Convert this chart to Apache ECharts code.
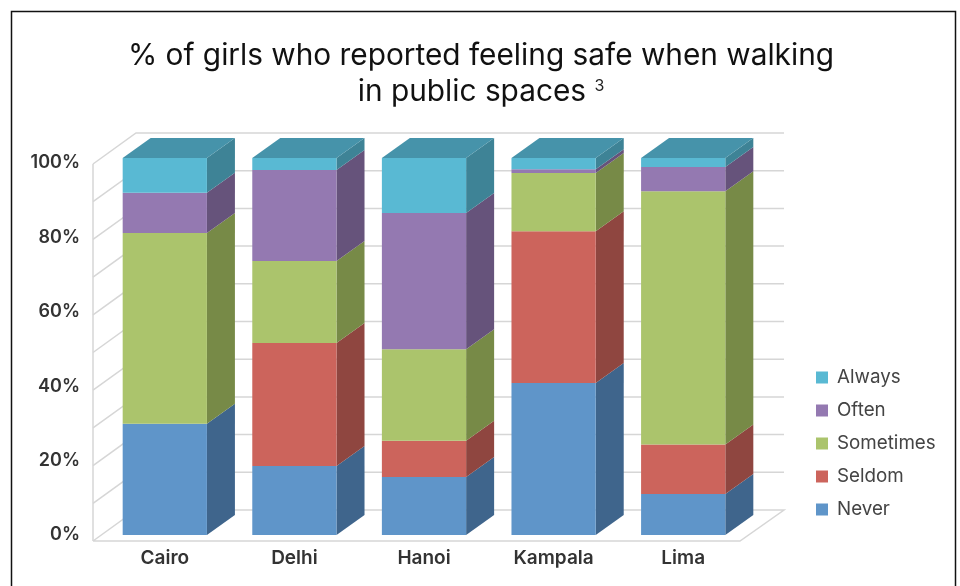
<!DOCTYPE html>
<html>
<head>
<meta charset="utf-8">
<style>
  html, body { margin: 0; padding: 0; background: #fff; }
  #chart { width: 960px; height: 586px; }
</style>
<script src="https://cdn.jsdelivr.net/npm/echarts@6/dist/echarts.min.js"></script>
</head>
<body>
<div id="chart"></div>
<script>
const cities = ["Cairo", "Delhi", "Hanoi", "Kampala", "Lima"];
const never = [29.5, 18.3, 15.4, 40.3, 10.9];
const seldom = [0, 32.6, 9.6, 40.3, 13.1];
const sometimes = [50.6, 21.8, 24.3, 15.4, 67.2];
const often = [10.7, 24.1, 36.1, 1, 6.4];
const always = [9.2, 3.2, 14.6, 3, 2.4];
const wallTicks = [0, 10, 20, 30, 40, 50, 60, 70, 80, 90, 100];

const FONT = "Inter";
const DEPTH_X = 28, DEPTH_Y = 20;

// front, side, top
const never_c = ["#5f95c9", "#3f658c"];
const seldom_c = ["#cc645c", "#8f4640"];
const sometimes_c = ["#abc46c", "#778a47"];
const often_c = ["#9479b1", "#66537b"];
const always_c = ["#59b9d3", "#3e8396", "#4693aa"];

function makeStack() {
  const rows = [];
  const base = cities.map(() => 0);
  [never, seldom, sometimes, often, always].forEach((values) => {
    rows.push(values.map((v, i) => {
      const item = [i, base[i], base[i] + v];
      base[i] += v;
      return item;
    }));
  });
  return rows;
}

function barItem(colors) {
  return (params, api) => {
    const low = api.coord([api.value(0), api.value(1)]);
    const high = api.coord([api.value(0), api.value(2)]);
    const w = api.size([1, 0])[0] * 0.65;
    const l = low[0] - w / 2, r = low[0] + w / 2;
    const children = [
      {
        type: "polygon",
        shape: { points: [[r, low[1]], [r + DEPTH_X, low[1] - DEPTH_Y], [r + DEPTH_X, high[1] - DEPTH_Y], [r, high[1]]] },
        style: { fill: colors[1] },
      },
      { type: "rect", shape: { x: l, y: high[1], width: w, height: low[1] - high[1] }, style: { fill: colors[0] } },
    ];
    if (colors[2]) {
      children.push({
        type: "polygon",
        shape: { points: [[l, high[1]], [r, high[1]], [r + DEPTH_X, high[1] - DEPTH_Y], [l + DEPTH_X, high[1] - DEPTH_Y]] },
        style: { fill: colors[2] },
      });
    }
    return { type: "group", children };
  };
}

// back wall, left wall and floor lines, hung off the bar scale
function wallItem(params, api) {
  const cs = params.coordSys;
  const y = api.coord([0, api.value(0)])[1];
  const frontX = cs.x - 7, backX = frontX + 43;
  const endX = cs.x + cs.width - 8;
  const lineStyle = { stroke: "#d6d6d6", lineWidth: 1.5, fill: null };
  const pts = [[frontX, y + 6], [backX, y - 25], [endX + 44, y - 25]];
  if (api.value(0) === 0) {
    pts.push([endX, y + 6], [frontX, y + 6]);
  }
  const children = [{ type: "polyline", shape: { points: pts }, style: lineStyle }];
  if (api.value(0) === 100) {
    children.push({
      type: "polyline",
      shape: { points: [[frontX, y + 6], [frontX, cs.y + cs.height + 6]] },
      style: lineStyle,
    });
  }
  return { type: "group", children };
}

const stack = makeStack();
const names = ["Never", "Seldom", "Sometimes", "Often", "Always"];
const colorSets = [never_c, seldom_c, sometimes_c, often_c, always_c];

const myChart = echarts.init(document.getElementById("chart"));
myChart.setOption({
  backgroundColor: "#fff",
  animation: false,
  title: {
    text: "{t|% of girls who reported feeling safe when walking}\n{t|in public spaces }{s|3}",
    left: 476,
    top: 33,
    textAlign: "center",
    textStyle: {
      fontWeight: "normal",
      rich: {
        t: { fontFamily: FONT, fontSize: 29.8, fontWeight: "normal", color: "#111", lineHeight: 36 },
        s: { fontFamily: FONT, fontSize: 16, fontWeight: "normal", color: "#222", lineHeight: 36, padding: [0, 0, 12, 0] },
      },
    },
  },
  legend: {
    data: ["Always", "Often", "Sometimes", "Seldom", "Never"],
    orient: "vertical",
    left: 811,
    top: 362,
    itemWidth: 12,
    itemHeight: 12,
    itemGap: 12,
    icon: "rect",
    selectedMode: false,
    textStyle: { fontFamily: FONT, fontSize: 18.8, color: "#444", padding: [0, 0, 0, 4], lineHeight: 21 },
  },
  grid: [
    { left: 100, right: 212, top: 158, bottom: 51 },
    { left: 93, right: 212, top: 163, bottom: 51 },
  ],
  xAxis: [
    {
      type: "category",
      data: cities,
      gridIndex: 0,
      axisLine: { show: false },
      axisTick: { show: false },
      axisLabel: { fontFamily: FONT, fontSize: 19, fontWeight: 600, color: "#333", margin: 14 },
    },
    { type: "value", gridIndex: 1, show: false },
  ],
  yAxis: [
    { type: "value", gridIndex: 0, min: 0, max: 100, show: false },
    {
      type: "value",
      gridIndex: 1,
      min: 0,
      max: 100,
      interval: 20,
      axisLine: { show: false },
      axisTick: { show: false },
      splitLine: { show: false },
      axisLabel: {
        formatter: "{value}%",
        fontFamily: FONT,
        fontSize: 18,
        fontWeight: 600,
        color: "#333",
        margin: 13,
      },
    },
  ],
  series: [
    {
      type: "custom",
      name: "walls",
      xAxisIndex: 0,
      yAxisIndex: 0,
      silent: true,
      z: 1,
      encode: { y: 0 },
      data: wallTicks.map((v) => [v]),
      renderItem: wallItem,
    },
  ].concat(names.map((name, k) => ({
    type: "custom",
    name,
    xAxisIndex: 0,
    yAxisIndex: 0,
    z: 2 + k,
    itemStyle: { color: colorSets[k][0] },
    encode: { x: 0, y: [1, 2] },
    data: stack[k],
    renderItem: barItem(colorSets[k]),
  }))),
  graphic: [
    {
      type: "polyline",
      silent: true,
      shape: { points: [[11.5, 586], [11.5, 11.5], [955.5, 11.5], [955.5, 586]] },
      style: { stroke: "#111", lineWidth: 1.5, fill: null },
    },
  ],
});
</script>
</body>
</html>
